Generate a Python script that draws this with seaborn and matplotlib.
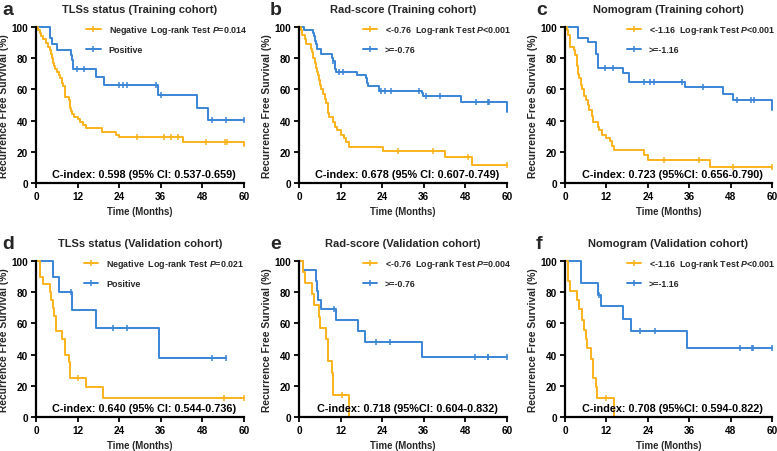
import numpy as np
import matplotlib
matplotlib.use("Agg")
import matplotlib.pyplot as plt
from matplotlib.lines import Line2D
import seaborn as sns

# ---------------- data ----------------
TITLES = ["TLSs status (Training cohort)", "Rad-score (Training cohort)", "Nomogram (Training cohort)",
          "TLSs status (Validation cohort)", "Rad-score (Validation cohort)", "Nomogram (Validation cohort)"]
LETTERS = ["a", "b", "c", "d", "e", "f"]
GROUP_LOW = ["Negative", "<-0.76", "<-1.16", "Negative", "<-0.76", "<-1.16"]
GROUP_HIGH = ["Positive", ">=-0.76", ">=-1.16", "Positive", ">=-0.76", ">=-1.16"]
PVALS = ["=0.014", "<0.001", "<0.001", "=0.021", "=0.004", "<0.001"]
CINDEX = ["C-index: 0.598 (95% CI: 0.537-0.659)", "C-index: 0.678 (95% CI: 0.607-0.749)",
          "C-index: 0.723 (95%CI: 0.656-0.790)", "C-index: 0.640 (95% CI: 0.544-0.736)",
          "C-index: 0.718 (95%CI: 0.604-0.832)", "C-index: 0.708 (95%CI: 0.594-0.822)"]
X_TICKS = [0, 12, 24, 36, 48, 60]
Y_TICKS = [0, 20, 40, 60, 80, 100]

# panel a
A_NEG_T = [0.5, 1.2, 1.5, 2, 3, 3.5, 4, 4.3, 4.6, 4.9, 5.2, 5.5, 6, 6.5, 7, 7.5, 7.8, 8.3, 8.5, 9.5, 9.7,
           9.9, 10.1, 10.3, 11, 12, 12.8, 13.5, 14.3, 19, 23, 24, 42.5, 60]
A_NEG_S = [98, 96, 94, 92, 90, 87, 85, 83, 80, 77, 75, 73, 71, 69, 67, 64, 62, 58, 55, 53, 50,
           48, 46, 44, 42, 41, 39, 37, 35, 33, 31, 29.4, 26.5, 23.5]
A_NEG_C = [29, 37, 39, 41, 49, 54.5, 55]
A_POS_T = [3.9, 4.6, 6.0, 10.2, 10.5, 10.7, 17.2, 19.7, 35.3, 46.3, 49.7]
A_POS_S = [93, 89, 85.5, 82, 79, 73, 68, 63, 56.4, 48.3, 40.5]
A_POS_C = [11.7, 13.9, 23.8, 25.2, 26.2, 34.5, 36, 50.7, 54.8, 60]

# panel b
B_NEG_T = [0.5, 1.0, 1.6, 2.1, 3.4, 3.8, 4.1, 4.5, 4.8, 5.1, 5.5, 5.9, 6.1, 6.4, 7.0, 7.4, 7.9, 8.3, 8.5,
           8.7, 9.8, 10.5, 10.9, 12.2, 13.0, 13.6, 14.3, 24.1, 42.1, 49.8]
B_NEG_S = [98, 95, 92, 89, 86, 84, 80, 77, 74, 71, 69, 66, 63, 60, 57, 54, 51, 48, 45,
           42, 39, 36, 34, 31, 29, 26, 23, 20.5, 16.5, 11.5]
B_NEG_C = [28.7, 38.7, 48.8, 60]
B_POS_T = [1.5, 4.0, 4.3, 4.7, 5.0, 5.3, 6.4, 9.5, 9.8, 10.3, 10.5, 10.7, 16.8, 19.4, 19.7, 20.0, 23.0,
           35.4, 35.9, 46.7, 60]
B_POS_S = [98, 96, 94, 91, 89, 86, 83, 80, 78, 75, 73, 71, 69, 67, 64, 62, 59.2,
           57.5, 55.5, 51.7, 45.5]
B_POS_C = [9.9, 11.6, 12.8, 23.7, 24.9, 26.4, 34.6, 36.6, 40.7, 51, 54.5, 54.9]

# panel c
C_NEG_T = [0.5, 1.0, 1.4, 2.5, 3.0, 3.6, 3.9, 4.2, 4.5, 4.9, 5.4, 6.1, 6.6, 6.9, 7.8, 8.2, 9.5, 9.8,
           10.7, 11.9, 12.9, 13.5, 14.1, 22.9, 24.2, 42.0]
C_NEG_S = [98, 95, 87, 85, 82, 75, 70, 67, 63, 60, 56, 53, 50, 47, 43, 39, 36, 34,
           31, 29, 27, 24, 21, 18, 15, 10]
C_NEG_C = [28.6, 38.7, 48.6, 60]
C_POS_T = [3.7, 6.6, 9.0, 9.7, 16.8, 18.6, 34.9, 45.7, 48.8, 60]
C_POS_S = [93, 90.5, 83, 73.5, 70.5, 65, 61.5, 57, 53, 47]
C_POS_C = [11.6, 13.8, 23, 24.7, 25.7, 33.8, 39.9, 49.8, 54, 54.9]

# panel d
D_NEG_T = [1.1, 2.0, 3.9, 4.3, 4.8, 5.3, 5.9, 7.6, 8.4, 9.4, 9.9, 14.5, 19.4]
D_NEG_S = [90, 85, 80, 75, 70, 65, 55, 50, 40, 35, 25, 19, 12.5]
D_NEG_C = [12.1, 54.2, 60]
D_POS_T = [4.8, 6.6, 10.5, 17.3, 35.5]
D_POS_S = [90, 80, 68.5, 57, 38]
D_POS_C = [10.1, 22.1, 26.3, 50.9, 54.8]

# panel e
E_NEG_T = [1.25, 1.8, 3.75, 4.3, 5.8, 6.0, 7.7, 8.3, 9.4, 9.9, 14.5]
E_NEG_S = [93, 86, 79, 71.5, 64, 57, 50, 36, 28.5, 14, 0]
E_NEG_C = [12.3]
E_POS_T = [1.1, 4.9, 5.1, 5.6, 6.3, 10.6, 17.1, 19.1, 35.5]
E_POS_S = [94, 87.5, 81, 75, 69, 62, 55, 48, 38.5]
E_POS_C = [10.2, 22.1, 26.3, 50.8, 54.4, 54.6, 60]

# panel f
F_NEG_T = [0.9, 1.45, 3.5, 4.0, 4.8, 5.6, 6.0, 6.5, 7.5, 8.0, 9.1, 9.4, 14.2]
F_NEG_S = [87.5, 81, 75, 69, 62.5, 56, 50, 44, 37.5, 25, 19, 12.5, 0]
F_NEG_C = [12.0]
F_POS_T = [4.5, 9.5, 10.4, 16.8, 19.0, 35.4]
F_POS_S = [86, 78.5, 71, 63, 55, 44]
F_POS_C = [9.9, 21.7, 26.1, 50.7, 54.2, 54.6, 60]

PANELS = [
    (A_NEG_T, A_NEG_S, A_NEG_C, A_POS_T, A_POS_S, A_POS_C),
    (B_NEG_T, B_NEG_S, B_NEG_C, B_POS_T, B_POS_S, B_POS_C),
    (C_NEG_T, C_NEG_S, C_NEG_C, C_POS_T, C_POS_S, C_POS_C),
    (D_NEG_T, D_NEG_S, D_NEG_C, D_POS_T, D_POS_S, D_POS_C),
    (E_NEG_T, E_NEG_S, E_NEG_C, E_POS_T, E_POS_S, E_POS_C),
    (F_NEG_T, F_NEG_S, F_NEG_C, F_POS_T, F_POS_S, F_POS_C),
]

ORANGE = "#FBB21C"
BLUE = "#3A84D6"

# ---------------- style ----------------
sns.set_theme(style="white")
plt.rcParams["font.family"] = ["Liberation Sans", "DejaVu Sans"]
plt.rcParams["font.weight"] = "bold"
plt.rcParams["axes.labelweight"] = "bold"
plt.rcParams["axes.titleweight"] = "bold"
plt.rcParams["mathtext.fontset"] = "custom"
plt.rcParams["mathtext.it"] = "Liberation Sans:italic:bold"
plt.rcParams["mathtext.rm"] = "Liberation Sans:bold"

fig = plt.figure(figsize=(7.77, 4.52), dpi=100)
W, H = 777.0, 452.0
lefts = [36, 299, 565]
widths = [208, 208, 207]
tops = [28, 262]
ah = 156
leg_x = [0.225, 0.29, 0.28, 0.215, 0.29, 0.28]


def km_xy(T, S, C):
    end = max(list(T) + list(C))
    x = [0.0] + list(T)
    y = [100.0] + list(S)
    if end > x[-1]:
        x.append(end)
        y.append(y[-1])
    return np.array(x), np.array(y)


def censor_y(T, S, C):
    T = np.asarray(T)
    S = np.asarray(S)
    idx = np.searchsorted(T, np.asarray(C), side="right") - 1
    return np.where(idx >= 0, S[np.clip(idx, 0, None)], 100.0)


for i, (nt, ns, nc, pt, ps, pc) in enumerate(PANELS):
    r, c = divmod(i, 3)
    ax = fig.add_axes([lefts[c] / W, 1 - (tops[r] + ah) / H, widths[c] / W, ah / H])
    for T, S, C, col in [(pt, ps, pc, BLUE), (nt, ns, nc, ORANGE)]:
        x, y = km_xy(T, S, C)
        sns.lineplot(x=x, y=y, drawstyle="steps-post", estimator=None, sort=False,
                     color=col, lw=1.4, ax=ax)
        if len(C):
            sns.scatterplot(x=np.asarray(C), y=censor_y(T, S, C), marker="|", s=22,
                            color=col, linewidth=1.1, ax=ax, zorder=3)
    for ln in ax.lines:
        ln.set_clip_on(False)
    for coll in ax.collections:
        coll.set_clip_on(False)

    ax.set_xlim(0, 60)
    ax.set_ylim(0, 100)
    ax.set_xticks(X_TICKS)
    ax.set_yticks(Y_TICKS)
    sns.despine(ax=ax)
    for sp in ["left", "bottom"]:
        ax.spines[sp].set_linewidth(1.6)
        ax.spines[sp].set_color("black")
    ax.tick_params(direction="out", length=3.5, width=1.3, labelsize=7.2, pad=2,
                   bottom=True, left=True, colors="black")
    for lab in ax.get_xticklabels() + ax.get_yticklabels():
        lab.set_fontweight("bold")
    ax.set_xlabel("Time (Months)", fontsize=6.9, labelpad=4)
    ax.set_ylabel("Recurrence Free Survival (%)", fontsize=7.4, labelpad=2)
    ax.set_title(TITLES[i], fontsize=8, pad=11)

    handles = [Line2D([0], [0], color=ORANGE, lw=1.4, marker="|", markersize=4.5, markeredgewidth=1.1),
               Line2D([0], [0], color=BLUE, lw=1.4, marker="|", markersize=4.5, markeredgewidth=1.1)]
    labels = [f"{GROUP_LOW[i]}  Log-rank Test $P${PVALS[i]}", GROUP_HIGH[i]]
    ax.legend(handles, labels, loc="upper left", bbox_to_anchor=(leg_x[i], 1.05), frameon=False,
              fontsize=6.4, handlelength=1.6, handletextpad=0.9, labelspacing=1.0,
              borderaxespad=0, numpoints=1)
    ax.text(0.52, 0.06, CINDEX[i], transform=ax.transAxes, ha="center", va="center",
            fontsize=7.8, fontweight="bold", color="black")

    fig.text((lefts[c] - 34 + (5 if c else 0)) / W, 1 - (tops[r] - 26) / H, LETTERS[i],
             fontsize=14, fontweight="bold", va="top", ha="left")

fig.savefig("out.png", dpi=100)
